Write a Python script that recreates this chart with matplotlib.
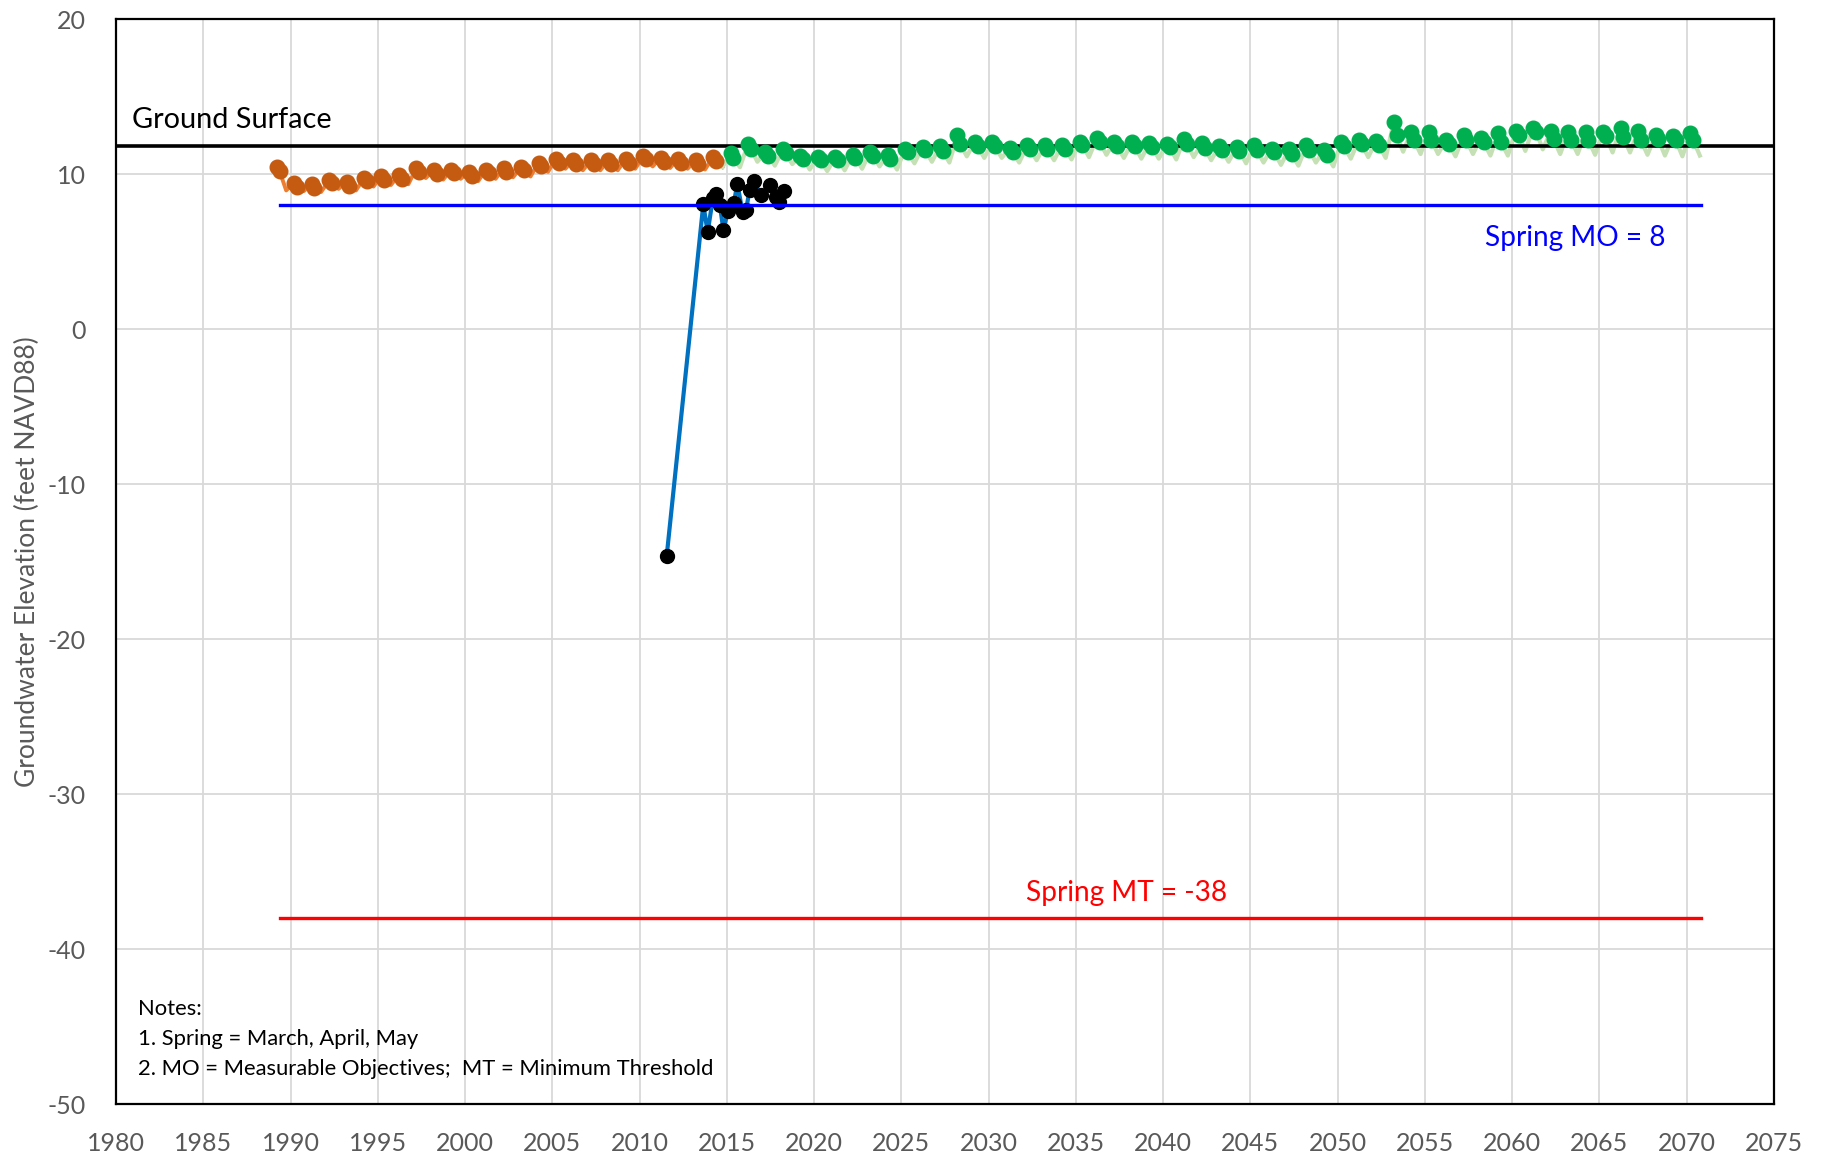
import matplotlib
matplotlib.use('Agg')
import matplotlib.pyplot as plt

# historical model (orange): spring Mar / May values and fall low, 1989-2014
hist_years = list(range(1989, 2015))
hist_mar = [10.45, 9.45, 9.35, 9.60, 9.50, 9.75, 9.90, 9.95, 10.40, 10.25, 10.30, 10.15, 10.30,
            10.40, 10.45, 10.75, 11.00, 10.90, 10.90, 10.90, 11.00, 11.15, 11.05, 11.00, 10.90, 11.10]
hist_may = [10.20, 9.20, 9.10, 9.40, 9.25, 9.55, 9.65, 9.70, 10.15, 10.00, 10.10, 9.90, 10.10,
            10.15, 10.25, 10.50, 10.75, 10.65, 10.65, 10.65, 10.75, 10.95, 10.80, 10.75, 10.65, 10.85]
hist_fall = [8.95, 8.90, 8.85, 9.05, 8.95, 9.20, 9.30, 9.35, 9.75, 9.65, 9.70, 9.55, 9.70,
             9.80, 9.85, 10.15, 10.35, 10.25, 10.25, 10.25, 10.35, 10.50, 10.40, 10.35, 10.30, 10.45]

# projection (green): 2015-2070
proj_years = list(range(2015, 2071))
proj_mar = [11.35, 11.95, 11.45, 11.60, 11.20, 11.10, 11.10, 11.25, 11.45, 11.25,
            11.65, 11.75, 11.80, 12.50, 12.10, 12.05, 11.70, 11.85, 11.85, 11.90,
            12.10, 12.35, 12.10, 12.05, 12.00, 11.95, 12.30, 12.00, 11.80, 11.75,
            11.85, 11.65, 11.60, 11.85, 11.55, 12.10, 12.20, 12.15, 13.35, 12.75,
            12.75, 12.20, 12.50, 12.35, 12.65, 12.80, 13.00, 12.80, 12.75, 12.75,
            12.75, 13.00, 12.80, 12.50, 12.45, 12.65]
proj_may = [11.05, 11.65, 11.20, 11.35, 11.00, 10.90, 10.90, 11.05, 11.20, 11.00,
            11.40, 11.55, 11.50, 11.95, 11.80, 11.80, 11.45, 11.60, 11.60, 11.65,
            11.90, 12.05, 11.80, 11.80, 11.75, 11.75, 11.95, 11.70, 11.55, 11.50,
            11.55, 11.40, 11.30, 11.55, 11.25, 11.80, 11.95, 11.85, 12.50, 12.20,
            12.20, 11.95, 12.20, 12.05, 12.05, 12.55, 12.75, 12.25, 12.20, 12.20,
            12.45, 12.40, 12.20, 12.25, 12.20, 12.20]
proj_fall = [10.45, 10.80, 10.55, 10.65, 10.30, 10.20, 10.25, 10.35, 10.50, 10.30,
             10.70, 10.80, 10.75, 11.15, 11.05, 11.05, 10.75, 10.90, 10.90, 10.95,
             11.10, 11.25, 11.05, 11.00, 11.00, 10.95, 11.10, 10.90, 10.80, 10.70,
             10.75, 10.60, 10.55, 10.75, 10.50, 11.00, 11.10, 11.05, 11.45, 11.30,
             11.30, 11.15, 11.30, 11.20, 11.20, 11.50, 11.60, 11.30, 11.30, 11.25,
             11.40, 11.40, 11.25, 11.20, 11.15, 11.20]

# observed levels
obs_date = [2011.55, 2013.65, 2013.90, 2014.20, 2014.40, 2014.60, 2014.80, 2015.07, 2015.40,
            2015.60, 2015.90, 2016.10, 2016.30, 2016.55, 2016.95, 2017.50, 2017.80, 2018.00, 2018.30]
obs_val = [-14.66, 8.05, 6.26, 8.45, 8.73, 7.98, 6.43, 7.62, 8.13,
           9.38, 7.55, 7.66, 9.00, 9.55, 8.63, 9.27, 8.52, 8.20, 8.90]

ground_surface = 11.8
spring_mo = 8
spring_mt = -38
thr_start, thr_end = 1989.4, 2070.8

notes = ['Notes:', '1. Spring = March, April, May',
         '2. MO = Measurable Objectives;  MT = Minimum Threshold']

plt.rcParams['font.family'] = ['Lato', 'DejaVu Sans']
plt.rcParams['axes.unicode_minus'] = False


def monthly(years, mar, may, fall):
    xs, ys = [], []
    for i in range(len(years)):
        xs += [years[i] + 0.21, years[i] + 0.37, years[i] + 0.75]
        ys += [mar[i], may[i], fall[i]]
    return xs, ys


fig = plt.figure(figsize=(18.27, 11.6), dpi=100)
ax = fig.add_axes([0.0635, 0.048, 0.9075, 0.9355])

hx, hy = monthly(hist_years, hist_mar, hist_may, hist_fall)
px, py = monthly(proj_years, proj_mar, proj_may, proj_fall)
px = [hx[-1]] + px
py = [hy[-1]] + py

ax.plot(hx, hy, color='#ED7D31', lw=2.8, zorder=3)
ax.plot(px, py, color='#C5E0B4', lw=3.0, zorder=3)
ax.axhline(ground_surface, color='black', lw=2.6, zorder=4)

for yrs, mar, may, col in [(hist_years, hist_mar, hist_may, '#C55A11'),
                           (proj_years, proj_mar, proj_may, '#00B050')]:
    ax.plot([y + 0.21 for y in yrs], mar, 'o', color=col, ms=10.5, zorder=5)
    ax.plot([y + 0.37 for y in yrs], may, 'o', color=col, ms=10.5, zorder=5)

ax.plot(obs_date, obs_val, color='#0070C0', lw=3.0, zorder=5)
ax.plot(obs_date, obs_val, 'o', color='black', ms=10, zorder=6)

ax.plot([thr_start, thr_end], [spring_mo, spring_mo], color='#0000FF', lw=2.4, zorder=7)
ax.plot([thr_start, thr_end], [spring_mt, spring_mt], color='#FF0000', lw=2.4, zorder=7)

ax.text(1980.9, 13.5, 'Ground Surface', fontsize=20.8, color='black', va='center')
ax.text(2063.6, 5.9, 'Spring MO = ' + str(spring_mo), fontsize=20.2, color='#0000FF',
        ha='center', va='center')
ax.text(2037.9, -36.35, 'Spring MT = ' + str(spring_mt), fontsize=20.2, color='#FF0000',
        ha='center', va='center')
for i, line in enumerate(notes):
    ax.text(1981.25, -43.85 - 1.92 * i, line, fontsize=15.8, color='black', va='center')

ax.set_xlim(1980, 2075)
ax.set_ylim(-50, 20)
ax.set_xticks(range(1980, 2076, 5))
ax.set_yticks(range(-50, 21, 10))
ax.grid(True, color='#D9D9D9', lw=1.3)
ax.set_axisbelow(True)
ax.tick_params(length=0, labelsize=18, labelcolor='#595959', pad=20)
ax.tick_params(axis='y', pad=22)
for s in ax.spines.values():
    s.set_color('black')
    s.set_linewidth(1.6)
ax.set_ylabel('Groundwater Elevation (feet NAVD88)', fontsize=19, color='#595959', labelpad=5)

fig.savefig('out.png', dpi=100)
